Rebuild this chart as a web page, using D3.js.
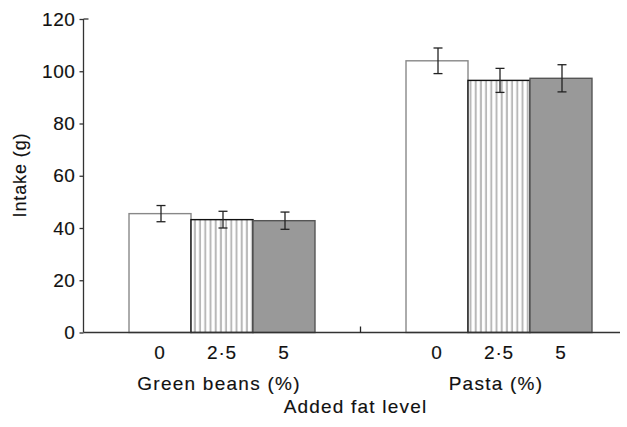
<!DOCTYPE html>
<html>
<head>
<meta charset="utf-8">
<script src="https://cdn.jsdelivr.net/npm/d3@7"></script>
<style>
  html, body { margin: 0; padding: 0; background: #fff; }
  svg { display: block; }
  text { font-family: "Liberation Sans", Arial, Helvetica, sans-serif; fill: #111; stroke: #111; stroke-width: 0.15px; }
</style>
</head>
<body>
<svg id="chart" width="627" height="427"></svg>
<script>
// ---- data ----
const groups = ["Green beans (%)", "Pasta (%)"];
const fatLevels = ["0", "2·5", "5"];
const intakeGreenBeans = [45.5, 43.2, 42.8];
const errorGreenBeans = [3.1, 3.2, 3.3];
const intakePasta = [104.0, 96.5, 97.3];
const errorPasta = [4.9, 4.6, 5.2];
const yTicks = [0, 20, 40, 60, 80, 100, 120];
const yTitle = "Intake (g)";
const xTitle = "Added fat level";

const rows = [];
groups.forEach((g, gi) => {
  const vals = gi === 0 ? intakeGreenBeans : intakePasta;
  const errs = gi === 0 ? errorGreenBeans : errorPasta;
  fatLevels.forEach((f, fi) => rows.push({ group: g, level: f, value: vals[fi], err: errs[fi] }));
});

// ---- layout ----
const svg = d3.select("#chart");
const plotLeft = 83.5, plotRight = 620, plotTop = 19, plotBottom = 332.5;

const y = d3.scaleLinear().domain([0, 120]).range([plotBottom, plotTop]);
const x0 = d3.scaleBand().domain(groups).range([plotLeft, plotLeft + 2 * 277]).paddingInner(0).paddingOuter(0);
const x1 = d3.scaleBand().domain(fatLevels).range([0, x0.bandwidth()]).paddingInner(0).paddingOuter(0.734);

// hatch pattern
const defs = svg.append("defs");
const pat = defs.append("pattern").attr("id", "hatch").attr("patternUnits", "userSpaceOnUse")
  .attr("width", 5.2).attr("height", 10);
pat.append("rect").attr("width", 5.2).attr("height", 10).attr("fill", "#fff");
pat.append("rect").attr("x", 1.5).attr("width", 2).attr("height", 10).attr("fill", "#b8b8b8");

const fills = { "0": "#ffffff", "2·5": "url(#hatch)", "5": "#999999" };
const strokes = { "0": "#888888", "2·5": "#111111", "5": "#555555" };

// bars
const g = svg.append("g");
g.selectAll("rect.bar").data(rows).join("rect")
  .attr("class", "bar")
  .attr("x", d => x0(d.group) + x1(d.level))
  .attr("width", x1.bandwidth())
  .attr("y", d => y(d.value))
  .attr("height", d => y(0) - y(d.value))
  .attr("fill", d => fills[d.level])
  .attr("stroke", d => strokes[d.level])
  .attr("stroke-width", 1.4);

// error bars
const eb = g.selectAll("g.err").data(rows).join("g").attr("class", "err")
  .attr("transform", d => `translate(${x0(d.group) + x1(d.level) + x1.bandwidth() / 2 + 1},0)`);
eb.append("line").attr("x1", 0).attr("x2", 0)
  .attr("y1", d => y(d.value + d.err)).attr("y2", d => y(d.value - d.err))
  .attr("stroke", "#222").attr("stroke-width", 1.3);
eb.append("line").attr("x1", -4.5).attr("x2", 4.5)
  .attr("y1", d => y(d.value + d.err)).attr("y2", d => y(d.value + d.err))
  .attr("stroke", "#222").attr("stroke-width", 1.3);
eb.append("line").attr("x1", -4.5).attr("x2", 4.5)
  .attr("y1", d => y(d.value - d.err)).attr("y2", d => y(d.value - d.err))
  .attr("stroke", "#222").attr("stroke-width", 1.3);

// y axis
const yAxis = svg.append("g").attr("transform", `translate(${plotLeft},0)`)
  .call(d3.axisLeft(y).tickValues(yTicks).tickSize(4).tickPadding(4).tickFormat(d3.format("d")));
yAxis.select(".domain").attr("stroke", "#333").attr("stroke-width", 1.3).attr("d", `M0,${plotTop}V${plotBottom}`);
yAxis.selectAll(".tick line").attr("stroke", "#333").attr("stroke-width", 1.3);
yAxis.selectAll(".tick text").attr("font-size", 19).attr("letter-spacing", "0.6px")
  .attr("font-family", "Liberation Sans, Arial, sans-serif").attr("fill", "#111");
// top tick crosses the axis
svg.append("line").attr("x1", plotLeft).attr("x2", plotLeft + 5).attr("y1", y(120)).attr("y2", y(120))
  .attr("stroke", "#333").attr("stroke-width", 1.3);

// x baseline
svg.append("line").attr("x1", plotLeft).attr("x2", plotRight).attr("y1", plotBottom).attr("y2", plotBottom)
  .attr("stroke", "#333").attr("stroke-width", 1.3);
// separator tick between groups (inward)
svg.append("line").attr("x1", x0(groups[1])).attr("x2", x0(groups[1]))
  .attr("y1", plotBottom).attr("y2", plotBottom - 6)
  .attr("stroke", "#222").attr("stroke-width", 1.3);

// level labels
svg.selectAll("text.lvl").data(rows).join("text").attr("class", "lvl")
  .attr("x", d => x0(d.group) + x1(d.level) + x1.bandwidth() / 2)
  .attr("y", 359)
  .attr("text-anchor", "middle")
  .attr("font-size", 19).attr("letter-spacing", "0.8px")
  .text(d => d.level);

// group labels
svg.selectAll("text.grp").data(groups).join("text").attr("class", "grp")
  .attr("x", d => x0(d) + x0.bandwidth() / 2 - 3)
  .attr("y", 390)
  .attr("text-anchor", "middle")
  .attr("font-size", 19).attr("letter-spacing", "1.25px")
  .text(d => d);

// x title
svg.append("text").attr("x", x0(groups[1]) - 5).attr("y", 413)
  .attr("text-anchor", "middle").attr("font-size", 19).attr("letter-spacing", "1.2px")
  .text(xTitle);

// y title
svg.append("text").attr("transform", `translate(26,175) rotate(-90)`)
  .attr("text-anchor", "middle").attr("font-size", 18).attr("letter-spacing", "0.9px")
  .text(yTitle);
</script>
</body>
</html>
